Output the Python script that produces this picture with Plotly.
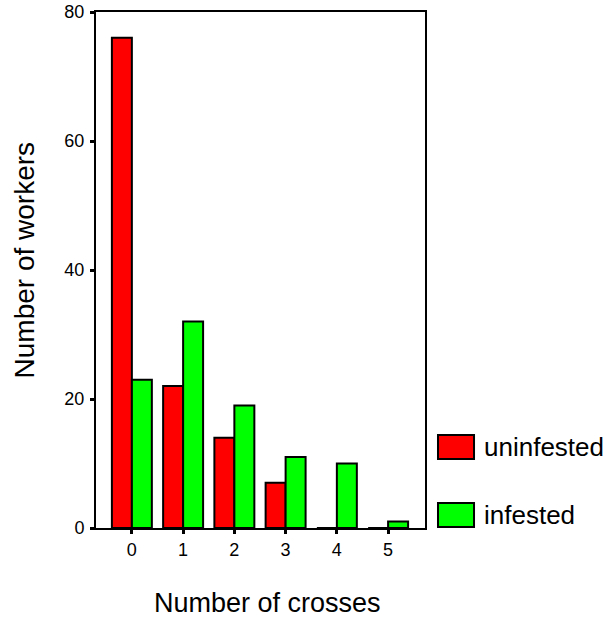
import plotly.graph_objects as go

categories = ["0", "1", "2", "3", "4", "5"]
uninfested = [76, 22, 14, 7, 0, 0]
infested = [23, 32, 19, 11, 10, 1]
series_names = ["uninfested", "infested"]
series_colors = ["#ff0000", "#00ff00"]
y_ticks = [0, 20, 40, 60, 80]

FONT = "Liberation Sans, Arial, sans-serif"

fig = go.Figure()
for name, vals, col in zip(series_names, [uninfested, infested], series_colors):
    fig.add_trace(go.Bar(
        x=[int(c) for c in categories], y=vals, name=name,
        marker=dict(color=col, line=dict(color="black", width=2)),
        showlegend=False,
    ))

fig.update_layout(
    width=611, height=623,
    margin=dict(l=96, r=186, t=12, b=95),
    paper_bgcolor="white", plot_bgcolor="white",
    barmode="group", bargap=0.22, bargroupgap=0,
    font=dict(family=FONT, color="black"),
    xaxis=dict(
        range=[-0.7, 5.72], tickvals=[int(c) for c in categories], ticktext=categories,
        showline=True, linecolor="black", linewidth=2, mirror=True,
        ticks="outside", ticklen=4, tickwidth=3, tickcolor="black",
        showgrid=False, zeroline=False, tickfont=dict(size=18), automargin=False,
    ),
    yaxis=dict(
        range=[0, 80], tickvals=y_ticks,
        showline=True, linecolor="black", linewidth=2, mirror=True,
        ticks="outside", ticklen=4, tickwidth=3, tickcolor="black",
        showgrid=False, zeroline=False, tickfont=dict(size=18), automargin=False,
        ticklabelstandoff=2,
    ),
)

# axis titles
fig.add_annotation(text="Number of crosses", xref="paper", yref="paper",
                   x=0.522, y=-0.145, xanchor="center", yanchor="middle",
                   showarrow=False, font=dict(size=27))
fig.add_annotation(text="Number of workers", xref="paper", yref="paper",
                   x=-0.218, y=0.519, xanchor="center", yanchor="middle",
                   textangle=-90, showarrow=False, font=dict(size=28))

# legend (custom swatches)
leg_y = [(0.1337, 0.1802, 0.157), (0.0019, 0.0484, 0.025)]
for (y0, y1, yt), name, col in zip(leg_y, series_names, series_colors):
    fig.add_shape(type="rect", xref="paper", yref="paper",
                  x0=1.0395, x1=1.149, y0=y0, y1=y1,
                  fillcolor=col, line=dict(color="black", width=2))
    fig.add_annotation(text=name, xref="paper", yref="paper",
                       x=1.172, y=yt, xanchor="left", yanchor="middle",
                       showarrow=False, font=dict(size=26))

fig.write_html("out.html", config={"displayModeBar": False},
               post_script="document.body.style.margin='0';")
